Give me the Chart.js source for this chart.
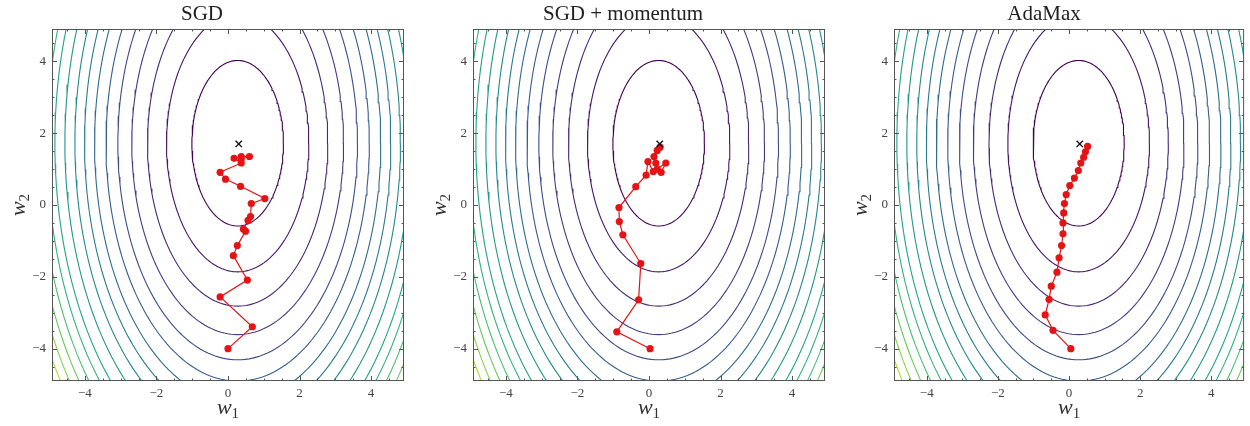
<!DOCTYPE html>
<html>
<head>
<meta charset="utf-8">
<script src="https://cdn.jsdelivr.net/npm/chart.js@4.4.1/dist/chart.umd.min.js"></script>
<style>
  html, body { margin: 0; padding: 0; background: #fff; overflow: hidden; }
  canvas { position: absolute; top: 0; }
</style>
</head>
<body>
<canvas id="sgd" width="420" height="426" style="left:0px"></canvas>
<canvas id="momentum" width="420" height="426" style="left:421px"></canvas>
<canvas id="adamax" width="408" height="426" style="left:842px"></canvas>
<script>
// loss surface: concentric ellipses round the minimum, semi-axis along w1 for each level
const contourCenter = [0.27, 1.72];
const contourSemiAxisW1 = [1.28, 1.99, 2.52, 2.96, 3.35, 3.68, 4.0, 4.28, 4.55, 4.83, 5.11, 5.33, 5.55, 5.76, 5.97, 6.17, 6.36, 6.55];
const contourAxisRatio = 1.8; // w2 semi-axis / w1 semi-axis

const optimum = [0.3, 1.7];

const sgdW1 = [0.0, 0.68, -0.22, 0.54, 0.15, 0.26, 0.49, 0.43, 0.56, 0.63, 0.65, 1.03, 0.35, -0.07, -0.22, 0.37, 0.17, 0.60, 0.37, 0.37];
const sgdW2 = [-4.0, -3.39, -2.56, -2.09, -1.41, -1.13, -0.73, -0.67, -0.43, -0.32, 0.04, 0.18, 0.52, 0.72, 0.91, 1.17, 1.30, 1.35, 1.35, 1.28];

const momentumW1 = [0.03, -0.90, -0.29, -0.23, -0.73, -0.83, -0.84, -0.37, -0.08, -0.03, 0.12, 0.47, 0.34, 0.19, 0.23, 0.14, 0.23, 0.31];
const momentumW2 = [-4.0, -3.53, -2.64, -1.63, -0.83, -0.46, -0.07, 0.51, 0.83, 1.21, 0.93, 1.17, 0.91, 1.17, 1.0, 1.35, 1.52, 1.61];

const adamaxW1 = [0.05, -0.45, -0.67, -0.56, -0.50, -0.34, -0.28, -0.21, -0.17, -0.17, -0.15, -0.13, -0.08, 0.02, 0.15, 0.26, 0.33, 0.41, 0.46, 0.52];
const adamaxW2 = [-4.0, -3.49, -3.06, -2.63, -2.26, -1.87, -1.47, -1.13, -0.80, -0.50, -0.22, 0.04, 0.29, 0.54, 0.75, 0.96, 1.17, 1.33, 1.48, 1.63];

const majorTicks = [-4, -2, 0, 2, 4];
const minorTicks = [-4.5, -4, -3.5, -3, -2.5, -2, -1.5, -1, -0.5, 0, 0.5, 1, 1.5, 2, 2.5, 3, 3.5, 4, 4.5];

const serif = "'Liberation Serif', 'DejaVu Serif', serif";
const pathRed = 'rgb(228, 20, 22)';

const viridis = ['#440154', '#482475', '#414487', '#355f8d', '#2a788e', '#21918c', '#22a884', '#44bf70', '#7ad151', '#bddf26', '#fde725'];

function viridisAt(t) {
    const p = Math.min(t, 1) * (viridis.length - 1);
    const i = Math.min(Math.floor(p), viridis.length - 2);
    const f = p - i;
    const a = parseInt(viridis[i].slice(1), 16), b = parseInt(viridis[i + 1].slice(1), 16);
    const mix = s => Math.round(((a >> s) & 255) * (1 - f) + ((b >> s) & 255) * f);
    return 'rgb(' + mix(16) + ',' + mix(8) + ',' + mix(0) + ')';
}

function contourDatasets() {
    return contourSemiAxisW1.map((r, k) => {
        const pts = [];
        for (let i = 0; i <= 200; i++) {
            const th = i / 200 * 2 * Math.PI;
            pts.push({ x: contourCenter[0] + r * Math.cos(th), y: contourCenter[1] + r * contourAxisRatio * Math.sin(th) });
        }
        return {
            data: pts,
            showLine: true,
            borderColor: viridisAt(k / (contourSemiAxisW1.length - 1)),
            borderWidth: 1.1,
            pointRadius: 0,
            order: 3
        };
    });
}

const frameAndTicks = {
    id: 'frameAndTicks',
    afterDraw(chart) {
        const { ctx, chartArea: a, scales: { x, y } } = chart;
        ctx.save();
        ctx.strokeStyle = '#555';
        ctx.lineWidth = 1;
        ctx.strokeRect(a.left + 0.5, a.top + 0.5, a.width - 1, a.height - 1);
        ctx.beginPath();
        minorTicks.forEach(v => {
            const len = majorTicks.includes(v) ? 5 : 2.5;
            const px = Math.round(x.getPixelForValue(v)) + 0.5;
            const py = Math.round(y.getPixelForValue(v)) + 0.5;
            ctx.moveTo(px, a.bottom); ctx.lineTo(px, a.bottom - len);
            ctx.moveTo(px, a.top); ctx.lineTo(px, a.top + len);
            ctx.moveTo(a.left, py); ctx.lineTo(a.left + len, py);
            ctx.moveTo(a.right, py); ctx.lineTo(a.right - len, py);
        });
        ctx.stroke();

        // axis titles w1, w2 with subscripts
        ctx.fillStyle = '#333';
        ctx.textBaseline = 'alphabetic';
        const drawSub = (cx, cy, sub) => {
            ctx.font = 'italic 22px ' + serif;
            const ww = ctx.measureText('w').width;
            ctx.font = '15px ' + serif;
            const sw = ctx.measureText(sub).width;
            const x0 = cx - (ww + sw) / 2;
            ctx.font = 'italic 22px ' + serif;
            ctx.fillText('w', x0, cy);
            ctx.font = '15px ' + serif;
            ctx.fillText(sub, x0 + ww, cy + 4);
        };
        drawSub((a.left + a.right) / 2, 414, '1');
        ctx.translate(25, (a.top + a.bottom) / 2);
        ctx.rotate(-Math.PI / 2);
        drawSub(0, 0, '2');
        ctx.restore();
    }
};

function drawPanel(canvasId, title, w1, w2, rightPad) {
    const path = w1.map((v, i) => ({ x: v, y: w2[i] }));
    new Chart(document.getElementById(canvasId), {
        type: 'scatter',
        data: {
            datasets: [{
                data: [{ x: optimum[0], y: optimum[1] }],
                pointStyle: 'crossRot',
                pointRadius: 4.5,
                borderColor: '#111',
                borderWidth: 1.4,
                order: 1
            }, {
                data: path,
                showLine: true,
                borderColor: pathRed,
                backgroundColor: pathRed,
                borderWidth: 1.2,
                pointRadius: 3.6,
                pointBorderWidth: 0,
                order: 2
            }].concat(contourDatasets())
        },
        options: {
            responsive: false,
            animation: false,
            layout: { padding: { left: 0, right: rightPad, top: 0, bottom: 0 } },
            scales: {
                x: {
                    type: 'linear',
                    min: -4.92,
                    max: 4.92,
                    afterFit: s => { s.height = 45; },
                    grid: { display: false, drawTicks: false },
                    border: { display: false },
                    ticks: {
                        stepSize: 2,
                        includeBounds: false,
                        padding: 5,
                        color: '#444',
                        font: { family: serif, size: 13 },
                        callback: v => (v < 0 ? '\u2212' + Math.abs(v) : '' + v)
                    }
                },
                y: {
                    type: 'linear',
                    min: -4.9,
                    max: 4.9,
                    afterFit: s => { s.width = 52; },
                    grid: { display: false, drawTicks: false },
                    border: { display: false },
                    ticks: {
                        stepSize: 2,
                        includeBounds: false,
                        padding: 6,
                        color: '#444',
                        font: { family: serif, size: 13 },
                        callback: v => (v < 0 ? '\u2212' + Math.abs(v) : '' + v)
                    }
                }
            },
            plugins: {
                legend: { display: false },
                tooltip: { enabled: false },
                title: {
                    display: true,
                    text: title,
                    color: '#222',
                    font: { family: serif, size: 21, weight: 'normal', lineHeight: 1.2 },
                    padding: { top: 2, bottom: 1.8 }
                }
            }
        },
        plugins: [frameAndTicks]
    });
}

drawPanel('sgd', 'SGD', sgdW1, sgdW2, 16);
drawPanel('momentum', 'SGD + momentum', momentumW1, momentumW2, 16);
drawPanel('adamax', 'AdaMax', adamaxW1, adamaxW2, 4);
</script>
</body>
</html>
